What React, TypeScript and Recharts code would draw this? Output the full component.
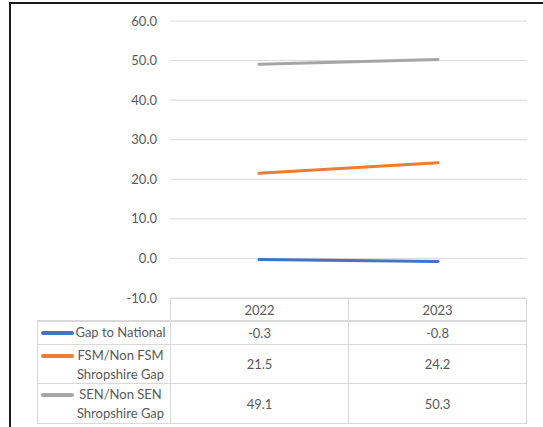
import React from "react";
import { LineChart, Line, XAxis, YAxis, CartesianGrid } from "recharts";

const years = ["2022", "2023"];
const seriesNames = ["Gap to National", "FSM/Non FSM Shropshire Gap", "SEN/Non SEN Shropshire Gap"];
const labelLines = [["Gap to National"], ["FSM/Non FSM", "Shropshire Gap"], ["SEN/Non SEN", "Shropshire Gap"]];
const gapToNational = [-0.3, -0.8];
const fsmGap = [21.5, 24.2];
const senGap = [49.1, 50.3];
const yTicks = [-10, 0, 10, 20, 30, 40, 50, 60];
const colors = ["#4472C4", "#ED7D31", "#A5A5A5"];

const allSeries = [gapToNational, fsmGap, senGap];
const data = years.map((y, i) => ({
  year: y,
  s0: gapToNational[i],
  s1: fsmGap[i],
  s2: senGap[i],
}));

const FONT = "Lato, 'Liberation Sans', sans-serif";
const TXT = "#595959";
const BORDER = "1px solid #d9d9d9";

export default function App() {
  const rowHeights = [23, 39, 40];
  return (
    <div style={{ position: "absolute", left: 0, top: 0, width: 543, height: 427, background: "#fff", overflow: "hidden", fontFamily: FONT }}>
      <div style={{ position: "absolute", left: 9, top: 2, width: 540, height: 430, borderTop: "2px solid #1a1a1a", borderLeft: "2px solid #1a1a1a" }} />
      <div style={{ position: "absolute", left: 0, top: 0 }}>
        <LineChart width={543} height={427} data={data} margin={{ top: 21, right: 16, bottom: 129, left: 100 }}>
          <CartesianGrid vertical={false} stroke="#d9d9d9" strokeWidth={1} />
          <XAxis dataKey="year" hide scale="point" padding={{ left: 89, right: 89 }} />
          <YAxis
            domain={[-10, 60]}
            ticks={yTicks}
            width={70}
            axisLine={false}
            tickLine={false}
            tickSize={0}
            tickMargin={13}
            interval={0}
            tickFormatter={(v: number) => v.toFixed(1)}
            tick={{ fill: TXT, fontSize: 13, fontFamily: FONT }}
          />
          {allSeries.map((_, i) => (
            <Line
              key={i}
              type="linear"
              dataKey={`s${i}`}
              name={seriesNames[i]}
              stroke={colors[i]}
              strokeWidth={3}
              strokeLinecap="round"
              dot={false}
              activeDot={false}
              isAnimationActive={false}
            />
          ))}
        </LineChart>
      </div>
      {/* data table */}
      <div style={{ position: "absolute", left: 170, top: 298, width: 357, height: 22, display: "flex", borderTop: BORDER, borderLeft: BORDER, borderRight: BORDER, boxSizing: "border-box" }}>
        {years.map((y, j) => (
          <div key={y} style={{ flex: 1, borderLeft: j > 0 ? BORDER : "none", display: "flex", alignItems: "center", justifyContent: "center", color: TXT, fontSize: 13 }}>
            {y}
          </div>
        ))}
      </div>
      <div style={{ position: "absolute", left: 37, top: 320, width: 490, border: BORDER, boxSizing: "border-box" }}>
        {allSeries.map((vals, i) => (
          <div key={i} style={{ display: "flex", height: rowHeights[i], borderTop: BORDER, boxSizing: "border-box" }}>
            <div style={{ width: 133, flex: "none", position: "relative", display: "flex", boxSizing: "border-box", borderRight: BORDER }}>
              <div style={{ position: "absolute", left: 3, top: 9, width: 33, height: 4, background: colors[i], borderRadius: 2 }} />
              <div style={{ position: "absolute", left: 36, right: 3, top: 1, textAlign: "center", color: TXT, fontSize: 13, lineHeight: "19px" }}>
                {labelLines[i].map((t) => (
                  <div key={t}>{t}</div>
                ))}
              </div>
            </div>
            {vals.map((v, j) => (
              <div key={j} style={{ flex: 1, borderLeft: j > 0 ? BORDER : "none", display: "flex", alignItems: "center", justifyContent: "center", color: TXT, fontSize: 13 }}>
                {v.toFixed(1)}
              </div>
            ))}
          </div>
        ))}
      </div>
    </div>
  );
}
